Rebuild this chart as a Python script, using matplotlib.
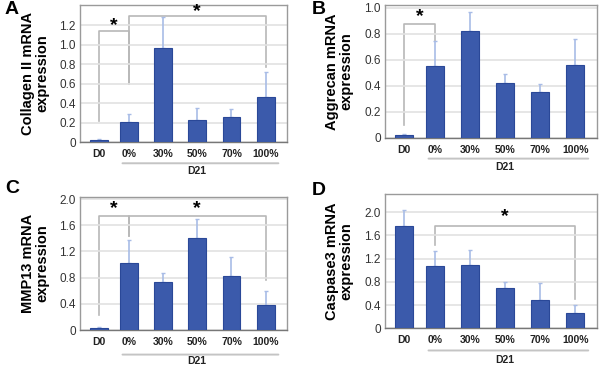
import matplotlib
matplotlib.use("Agg")
import matplotlib.pyplot as plt

plt.rcParams["font.family"] = ["Liberation Sans", "DejaVu Sans"]

groups = ["D0", "0%", "30%", "50%", "70%", "100%"]

collagen = [0.024, 0.21, 0.966, 0.224, 0.259, 0.462]
collagen_err = [0.011, 0.083, 0.324, 0.124, 0.086, 0.255]

aggrecan = [0.023, 0.554, 0.817, 0.421, 0.352, 0.562]
aggrecan_err = [0.007, 0.189, 0.146, 0.072, 0.059, 0.199]

mmp13 = [0.026, 1.02, 0.728, 1.41, 0.83, 0.38]
mmp13_err = [0.02, 0.35, 0.139, 0.29, 0.28, 0.21]

casp3 = [1.753, 1.08, 1.09, 0.69, 0.49, 0.27]
casp3_err = [0.277, 0.25, 0.25, 0.10, 0.286, 0.13]

BAR = "#3b5aab"
EDGE = "#2a4898"
ERR = "#a8bce6"
GRAY = "#b8b8b8"

# D0 sits a little closer to 0% than the spacing of the D21 bars
xpos = [0.13, 1, 2, 3, 4, 5]

fig = plt.figure(figsize=(6, 3.67), dpi=100)


def panel(rect, vals, errs, ymax, ticks, ylabel, letter, letter_xy, label_x):
    ax = fig.add_axes(rect)
    ax.bar(xpos, vals, width=0.52, color=BAR, edgecolor=EDGE, linewidth=0.8, zorder=3)
    ax.errorbar(xpos, vals, yerr=[[0] * len(errs), errs], fmt="none", ecolor=ERR,
                elinewidth=1.2, capsize=1.5, capthick=1.0, zorder=2)
    ax.set_xlim(-0.42, 5.62)
    ax.set_ylim(0, ymax)
    ax.set_yticks(ticks)
    ax.set_yticklabels(["0" if t == 0 else f"{t:.1f}" for t in ticks], fontsize=8.5, color="#333333")
    ax.set_xticks(xpos)
    ax.set_xticklabels(groups, fontsize=7.5, fontweight="bold", color="#222222")
    ax.tick_params(length=0, pad=3)
    ax.tick_params(axis="x", pad=5)
    ax.grid(axis="y", color="#e2e2e2", linewidth=1.2, zorder=0)
    for s in ["top", "right", "left"]:
        ax.spines[s].set_color("#9a9a9a")
        ax.spines[s].set_linewidth(1.0)
    ax.spines["bottom"].set_color("#777777")
    ax.spines["bottom"].set_linewidth(1.0)
    fig.text(label_x, rect[1] + rect[3] / 2, ylabel, rotation=90, ha="center", va="center",
             fontsize=10.5, fontweight="bold", linespacing=1.05)
    fig.text(letter_xy[0], letter_xy[1], letter, fontsize=14, fontweight="bold", ha="left", va="top")
    return ax


def bracket(ax, x1, x2, y1, ytop, y2, star_y):
    ax.plot([xpos[x1], xpos[x1], xpos[x2], xpos[x2]], [y1, ytop, ytop, y2],
            color=GRAY, linewidth=1.2, clip_on=False, zorder=1)
    ax.text((xpos[x1] + xpos[x2]) / 2, star_y, "*", ha="center", va="center",
            fontsize=14, fontweight="bold")


def d21(ax, y_line, y_text):
    ax.annotate("", xy=(0.74, y_line), xycoords=("data", "axes fraction"),
                xytext=(5.45, y_line), textcoords=("data", "axes fraction"),
                arrowprops=dict(arrowstyle="-", color="#c4c4c4", linewidth=1.4))
    ax.text(3.0, y_text, "D21", transform=ax.get_xaxis_transform(), ha="center",
            va="center", fontsize=7.5, fontweight="bold", color="#222222")


axA = panel([0.1333, 0.613, 0.345, 0.3733], collagen, collagen_err, 1.41,
            [0, 0.2, 0.4, 0.6, 0.8, 1.0, 1.2], "Collagen II mRNA\nexpression", "A",
            (0.008, 0.998), 0.058)
bracket(axA, 0, 1, 0.22, 1.14, 0.60, 1.20)
bracket(axA, 1, 5, 0.60, 1.30, 0.77, 1.34)
d21(axA, -0.155, -0.215)

axB = panel([0.6417, 0.624, 0.3533, 0.3624], aggrecan, aggrecan_err, 1.02,
            [0, 0.2, 0.4, 0.6, 0.8, 1.0], "Aggrecan mRNA\nexpression", "B",
            (0.52, 0.998), 0.565)
bracket(axB, 0, 1, 0.10, 0.876, 0.743, 0.93)
d21(axB, -0.155, -0.22)

axC = panel([0.1333, 0.1008, 0.345, 0.362], mmp13, mmp13_err, 2.03,
            [0, 0.4, 0.8, 1.2, 1.6, 2.0], "MMP13 mRNA\nexpression", "C",
            (0.008, 0.51), 0.058)
bracket(axC, 0, 1, 0.23, 1.74, 1.44, 1.85)
bracket(axC, 1, 5, 1.44, 1.74, 0.76, 1.85)
d21(axC, -0.185, -0.232)

axD = panel([0.6417, 0.1054, 0.3533, 0.366], casp3, casp3_err, 2.31,
            [0, 0.4, 0.8, 1.2, 1.6, 2.0], "Caspase3 mRNA\nexpression", "D",
            (0.52, 0.505), 0.565)
bracket(axD, 1, 5, 1.425, 1.753, 0.506, 1.92)
d21(axD, -0.165, -0.235)

fig.savefig("out.png", dpi=100)
